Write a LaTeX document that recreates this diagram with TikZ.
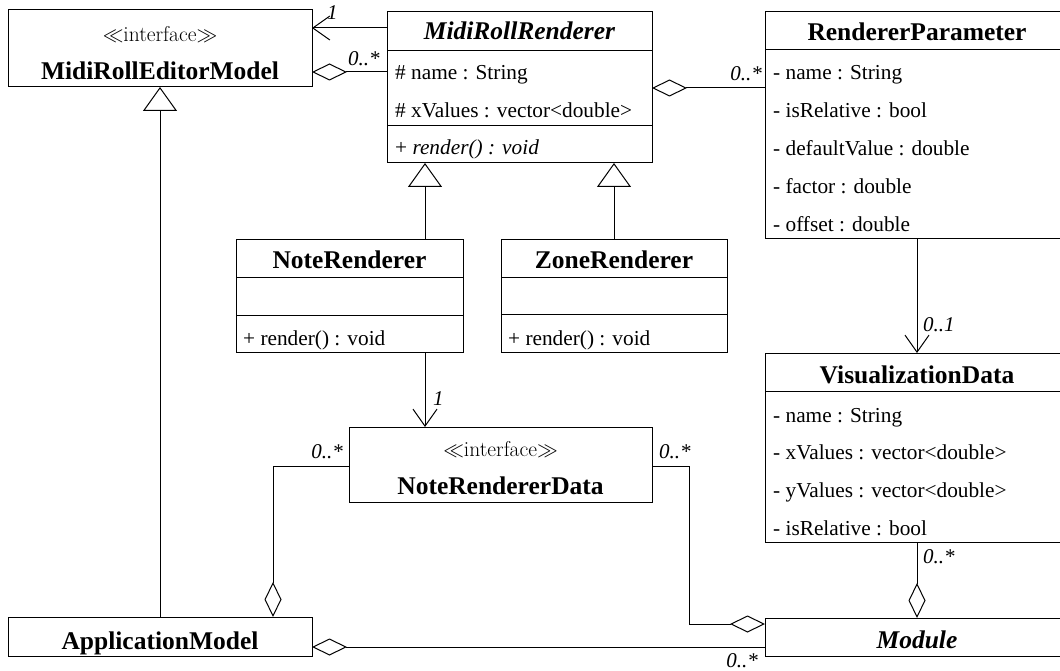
\documentclass[tikz,border=0pt]{standalone}
\usepackage{fontspec}
\setmainfont{Liberation Serif}
\newfontfamily\lmfont{Latin Modern Roman}
\usetikzlibrary{arrows.meta}

\tikzset{
  classbox/.style={draw, line width=1pt, rectangle, inner sep=0pt, outer sep=0pt, anchor=north west},
  compline/.style={line width=1pt},
  conn/.style={line width=1pt},
  titletext/.style={anchor=base, inner sep=0pt, font=\fontsize{25.5}{30}\selectfont\bfseries},
  stereo/.style={anchor=base, inner sep=0pt, font=\lmfont\fontsize{21.5}{25}\selectfont},
  member/.style={anchor=base west, inner sep=0pt, font=\fontsize{21.3}{25}\selectfont},
  mult/.style={inner sep=0pt, font=\fontsize{21}{25}\selectfont\itshape},
  navarrow/.style={-{Straight Barb[length=17pt,width=24pt,line width=1pt]}},
  genarrow/.style={-{Triangle[open,length=24pt,width=34pt,line width=1pt]}},
  aggstart/.style={{Diamond[open,length=35pt,width=17pt,line width=1pt]}-}
}

\begin{document}
\begin{tikzpicture}[x=1pt,y=-1pt]
\useasboundingbox (0,0) rectangle (1060,671);

% ---------- class boxes ----------
\node[classbox, minimum width=304pt, minimum height=77pt]  (mrem) at (8,10) {};
\node[classbox, minimum width=265pt, minimum height=151pt] (mrr)  at (387,12) {};
\node[classbox, minimum width=304pt, minimum height=226pt] (rp)   at (765,12) {};
\node[classbox, minimum width=227pt, minimum height=113pt] (nr)   at (236,239) {};
\node[classbox, minimum width=226pt, minimum height=113pt] (zr)   at (501,239) {};
\node[classbox, minimum width=303pt, minimum height=75pt]  (nrd)  at (349,427) {};
\node[classbox, minimum width=304pt, minimum height=189pt] (vd)   at (765,353) {};
\node[classbox, minimum width=304pt, minimum height=39pt]  (appm) at (8,617) {};
\node[classbox, minimum width=304pt, minimum height=38pt]  (mod)  at (765,618) {};

% ---------- compartment separators ----------
\draw[compline] (mrr.west |- 0,51)  -- (mrr.east |- 0,51);
\draw[compline] (mrr.west |- 0,126) -- (mrr.east |- 0,126);
\draw[compline] (rp.west |- 0,50)   -- (rp.east |- 0,50);
\draw[compline] (nr.west |- 0,277)  -- (nr.east |- 0,277);
\draw[compline] (nr.west |- 0,315)  -- (nr.east |- 0,315);
\draw[compline] (zr.west |- 0,277)  -- (zr.east |- 0,277);
\draw[compline] (zr.west |- 0,314)  -- (zr.east |- 0,314);
\draw[compline] (vd.west |- 0,391)  -- (vd.east |- 0,391);

% ---------- MidiRollEditorModel ----------
\node[stereo]    (mremS) at (mrem.north |- 0,42) {$\ll$interface$\gg$};
\node[titletext] (mremT) at (mrem.north |- 0,80) {MidiRollEditorModel};

% ---------- MidiRollRenderer ----------
\node[titletext, font=\fontsize{25.5}{30}\selectfont\bfseries\itshape] (mrrT) at (mrr.north |- 0,40) {MidiRollRenderer};
\node[member] (mrr1) at (395,80)  {\# name : String};
\node[member] (mrr2) at (395,118) {\# xValues : vector<double>};
\node[member] (mrr3) at (395,155) {+ \textit{render() : void}};

% ---------- RendererParameter ----------
\node[titletext] (rpT) at (rp.north |- 0,41) {RendererParameter};
\node[member] (rp1) at (773,80)  {- name : String};
\node[member] (rp2) at (773,118) {- isRelative : bool};
\node[member] (rp3) at (773,156) {- defaultValue : double};
\node[member] (rp4) at (773,194) {- factor : double};
\node[member] (rp5) at (773,232) {- offset : double};

% ---------- NoteRenderer / ZoneRenderer ----------
\node[titletext] (nrT) at (nr.north |- 0,268) {NoteRenderer};
\node[member] (nr1) at (243,345) {+ render() : void};
\node[titletext] (zrT) at (zr.north |- 0,268) {ZoneRenderer};
\node[member] (zr1) at (508,345) {+ render() : void};

% ---------- NoteRendererData ----------
\node[stereo]    (nrdS) at (nrd.north |- 0,456) {$\ll$interface$\gg$};
\node[titletext] (nrdT) at (nrd.north |- 0,494) {NoteRendererData};

% ---------- VisualizationData ----------
\node[titletext] (vdT) at (vd.north |- 0,383) {VisualizationData};
\node[member] (vd1) at (773,422) {- name : String};
\node[member] (vd2) at (773,459) {- xValues : vector<double>};
\node[member] (vd3) at (773,497) {- yValues : vector<double>};
\node[member] (vd4) at (773,535) {- isRelative : bool};

% ---------- ApplicationModel / Module ----------
\node[titletext] (appmT) at (appm.north |- 0,649) {ApplicationModel};
\node[titletext, font=\fontsize{25.5}{30}\selectfont\bfseries\itshape] (modT) at (mod.north |- 0,648) {Module};

% ---------- routing columns ----------
\coordinate (colNR)  at (425,0);
\coordinate (colAM)  at (273,0);
\coordinate (colMod) at (689,0);

% ---------- connectors ----------
% navigable association MidiRollRenderer -> MidiRollEditorModel
\draw[conn, navarrow] (mrr.west |- 0,28) -- (mrem.east |- 0,28);
% aggregation MidiRollEditorModel <>- MidiRollRenderer
\draw[conn, aggstart] (mrem.east |- 0,72) -- (mrr.west |- 0,72);
% aggregation MidiRollRenderer <>- RendererParameter
\draw[conn, aggstart] (mrr.east |- 0,88) -- (rp.west |- 0,88);
% generalizations
\draw[conn, genarrow] (appm.north) -- (mrem.south);
\draw[conn, genarrow] (colNR |- nr.north) -- (colNR |- mrr.south);
\draw[conn, genarrow] (zr.north) -- (zr.north |- mrr.south);
% NoteRenderer -> NoteRendererData
\draw[conn, navarrow] (colNR |- nr.south) -- (colNR |- nrd.north);
% RendererParameter -> VisualizationData
\draw[conn, navarrow] (rp.south) -- (vd.north);
% Module <>- VisualizationData
\draw[conn, aggstart] (mod.north) -- (vd.south);
% ApplicationModel <>- NoteRendererData
\draw[conn, aggstart] (colAM |- appm.north) |- (nrd.west |- 0,466);
% Module <>- NoteRendererData
\draw[conn, aggstart] (mod.west |- 0,624) -| (colMod |- 0,466) -- (nrd.east |- 0,466);
% ApplicationModel <>- Module
\draw[conn, aggstart] (appm.east |- 0,647) -- (mod.west |- 0,647);

% ---------- multiplicities ----------
\node[mult, anchor=base west] (m1) at (327,20)  {1};
\node[mult, anchor=base west] (m2) at (348,66)  {0..*};
\node[mult, anchor=base east] (m3) at (762,81)  {0..*};
\node[mult, anchor=base west] (m4) at (433,405) {1};
\node[mult, anchor=base east] (m5) at (343,458) {0..*};
\node[mult, anchor=base west] (m6) at (659,458) {0..*};
\node[mult, anchor=base west] (m7) at (923,331) {0..1};
\node[mult, anchor=base west] (m8) at (923,563) {0..*};
\node[mult, anchor=base east] (m9) at (758,667) {0..*};
\end{tikzpicture}
\end{document}
